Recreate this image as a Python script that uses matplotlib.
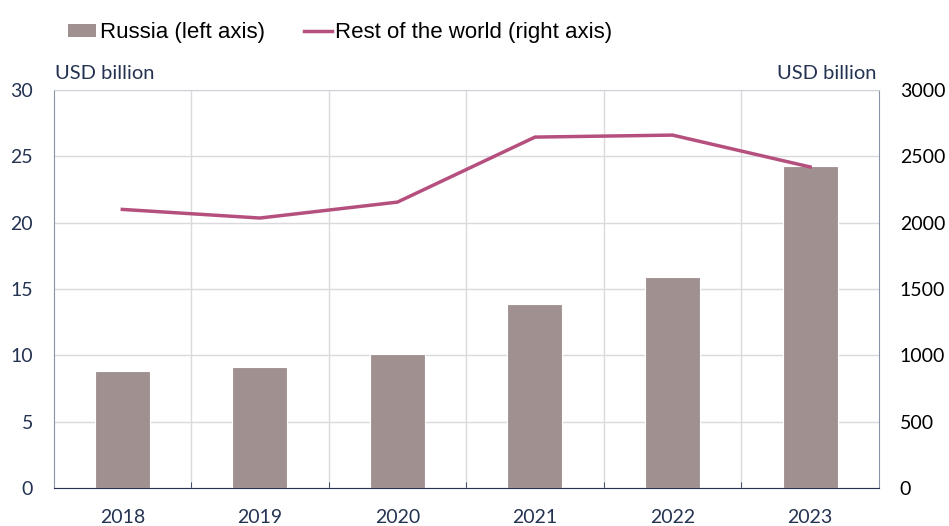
import numpy as np
import matplotlib.pyplot as plt
from matplotlib.patches import Patch
from matplotlib.lines import Line2D

years = ['2018', '2019', '2020', '2021', '2022', '2023']
russia = [8.8, 9.1, 10.1, 13.9, 15.9, 24.3]          # left axis
rest_world = [2100, 2035, 2155, 2645, 2660, 2420]   # right axis

bar_col = '#a09190'
line_col = '#b5507e'
navy = '#243352'

plt.rcParams['font.family'] = ['Lato', 'DejaVu Sans']

fig = plt.figure(figsize=(9.49, 5.26), dpi=100)
ax = fig.add_axes([0.0564, 0.0722, 0.8697, 0.7567])
x = np.arange(len(years))

ax.bar(x, russia, width=0.4, color=bar_col, edgecolor='white', linewidth=0.8, zorder=2)
ax.set_xlim(-0.5, len(years) - 0.5)
ax.set_ylim(0, 30)
ax.set_yticks(np.arange(0, 31, 5))
ax.set_xticks(x)
ax.set_xticklabels(years)
ax.set_xticks(x[:-1] + 0.5, minor=True)
ax.grid(axis='y', color='#d9d9de', linewidth=1, zorder=0)
ax.grid(axis='x', which='minor', color='#d9d9de', linewidth=1, zorder=0)
ax.tick_params(axis='x', which='major', length=0, pad=15, labelsize=14, labelcolor=navy)
ax.tick_params(axis='x', which='minor', direction='in', length=4, color=navy)
ax.tick_params(axis='y', length=0, pad=14.8, labelsize=14, labelcolor=navy)
ax.spines['bottom'].set_color(navy)
ax.spines['left'].set_color('#8a92a6')
ax.spines['top'].set_color('#d0d0d8')
ax.spines['right'].set_color('#8a92a6')

ax2 = ax.twinx()
ax2.plot(x, rest_world, color=line_col, linewidth=2.5, zorder=3)
ax2.set_ylim(0, 3000)
ax2.set_yticks(np.arange(0, 3001, 500))
ax2.tick_params(axis='y', length=0, pad=15, labelsize=14, labelcolor='black')
for s in ax2.spines.values():
    s.set_visible(False)

fig.text(0.058, 0.845, 'USD billion', fontsize=14.5, color=navy, ha='left', va='bottom')
fig.text(0.924, 0.845, 'USD billion', fontsize=14.5, color=navy, ha='right', va='bottom')

handles = [Patch(facecolor=bar_col, edgecolor='none'),
           Line2D([0], [0], color=line_col, linewidth=2.5)]
fig.legend(handles, ['Russia (left axis)', 'Rest of the world (right axis)'],
           loc='center left', bbox_to_anchor=(0.072, 0.938), ncol=2, frameon=False,
           prop={'family': 'Liberation Sans', 'size': 16},
           handlelength=1.26, handleheight=0.5, handletextpad=0.15, columnspacing=1.75,
           borderpad=0, borderaxespad=0)

fig.savefig('out.png', dpi=100)
